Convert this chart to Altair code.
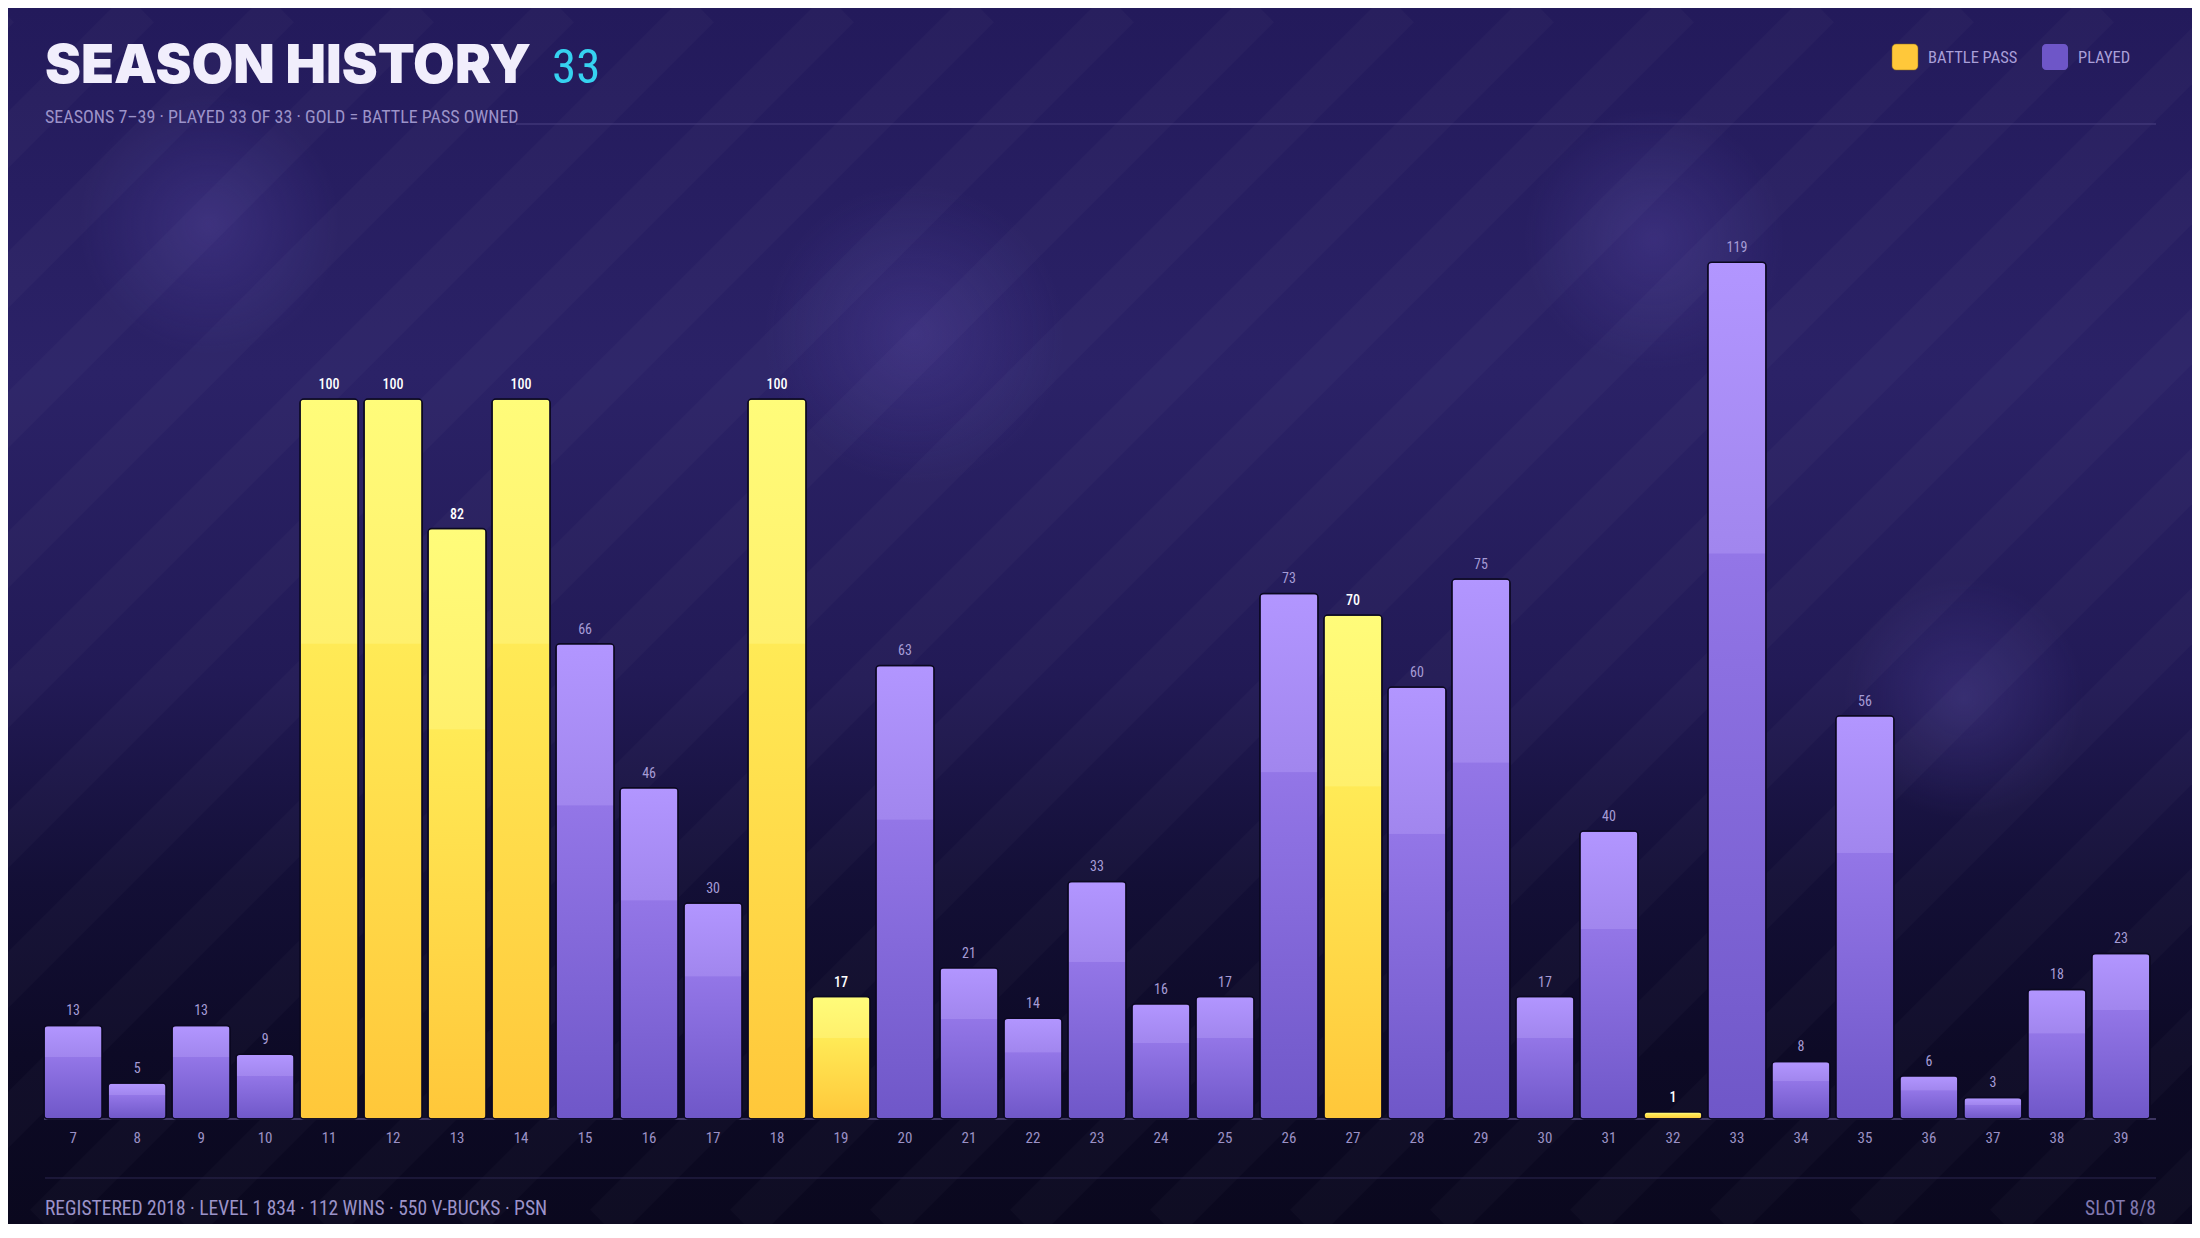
import altair as alt
import pandas as pd

# ---------------- data ----------------
seasons = [7, 8, 9, 10, 11, 12, 13, 14, 15, 16, 17, 18, 19, 20, 21, 22, 23,
           24, 25, 26, 27, 28, 29, 30, 31, 32, 33, 34, 35, 36, 37, 38, 39]
played = [13, 5, 13, 9, 100, 100, 82, 100, 66, 46, 30, 100, 17, 63, 21, 14, 33,
          16, 17, 73, 70, 60, 75, 17, 40, 1, 119, 8, 56, 6, 3, 18, 23]
battle_pass_seasons = [11, 12, 13, 14, 18, 19, 27, 32]

title_text = "SEASON HISTORY"
title_count = "33"
subtitle_text = "SEASONS 7\u201339  \u00b7  PLAYED 33 OF 33  \u00b7  GOLD = BATTLE PASS OWNED"
footer_left = "REGISTERED 2018  \u00b7  LEVEL 1 834  \u00b7  112 WINS  \u00b7  550 V-BUCKS  \u00b7  PSN"
footer_right = "SLOT 8/8"
legend_labels = ["BATTLE PASS", "PLAYED"]

df = pd.DataFrame({
    "season": seasons,
    "played": played,
    "bp": [1 if s in battle_pass_seasons else 0 for s in seasons],
})

# ---------------- layout constants ----------------
W, H = 2106, 900
PAD = {"left": 36, "top": 211, "right": 42, "bottom": 105}
NARROW = "Noto Sans ExtraCondensed, Noto Sans Condensed, Roboto Condensed, Roboto, sans-serif"
HEAVY = "Inter, Lato, sans-serif"

# ---------------- background ----------------
one = pd.DataFrame({"k": [0]})
bg_grad = alt.Gradient(
    gradient="linear", x1=0, y1=0, x2=0, y2=1,
    stops=[
        alt.GradientStop(offset=0, color="#231a5b"),
        alt.GradientStop(offset=0.3, color="#2b2267"),
        alt.GradientStop(offset=0.55, color="#221a56"),
        alt.GradientStop(offset=0.72, color="#130f36"),
        alt.GradientStop(offset=0.86, color="#0d0a26"),
        alt.GradientStop(offset=1, color="#0a081e"),
    ],
)
bg_rect = alt.Chart(one).mark_rect(fill=bg_grad).encode(
    x=alt.value(-PAD["left"]), x2=alt.value(W + PAD["right"]),
    y=alt.value(-PAD["top"]), y2=alt.value(H + PAD["bottom"]),
)

glow_fill = alt.Gradient(
    gradient="radial",
    stops=[
        alt.GradientStop(offset=0, color="rgba(120,100,210,0.22)"),
        alt.GradientStop(offset=1, color="rgba(120,100,210,0)"),
    ],
)
glows = []
for gx, gy, gs in [(165, 5, 260), (870, 115, 300), (1610, 20, 260), (1920, 480, 240)]:
    glows.append(
        alt.Chart(one).mark_circle(fill=glow_fill, opacity=1, strokeWidth=0).encode(
            x=alt.value(gx), y=alt.value(gy), size=alt.value(gs * gs)
        )
    )

total_h = H + PAD["top"] + PAD["bottom"]
stripe_starts = list(range(-1400, 2300, 140))
stripes_df = pd.DataFrame({
    "sx": stripe_starts,
    "sx2": [s + total_h for s in stripe_starts],
    "sy": [H + PAD["bottom"]] * len(stripe_starts),
    "sy2": [-PAD["top"]] * len(stripe_starts),
})
stripes = alt.Chart(stripes_df).mark_rule(
    color="#ffffff", strokeWidth=40, opacity=0.025
).encode(
    x=alt.X("sx:Q", scale=None, axis=None),
    x2="sx2:Q",
    y=alt.Y("sy:Q", scale=None, axis=None),
    y2="sy2:Q",
)

background = alt.layer(bg_rect, *glows, stripes)

# ---------------- bars ----------------
purple_grad = alt.Gradient(
    gradient="linear", x1=0, y1=0, x2=0, y2=1,
    stops=[
        alt.GradientStop(offset=0, color="#b296ff"),
        alt.GradientStop(offset=0.339, color="#a186ee"),
        alt.GradientStop(offset=0.341, color="#9376e7"),
        alt.GradientStop(offset=1, color="#6f57c8"),
    ],
)
gold_grad = alt.Gradient(
    gradient="linear", x1=0, y1=0, x2=0, y2=1,
    stops=[
        alt.GradientStop(offset=0, color="#fffc7a"),
        alt.GradientStop(offset=0.339, color="#fff06c"),
        alt.GradientStop(offset=0.341, color="#ffea56"),
        alt.GradientStop(offset=1, color="#ffc73a"),
    ],
)

xenc = alt.X("season:O", axis=None, sort=seasons,
             scale=alt.Scale(domain=seasons, paddingInner=0.09, paddingOuter=0))
yenc = alt.Y("played:Q", axis=None, scale=alt.Scale(domain=[0, 125]))

base = alt.Chart(df).encode(x=xenc, y=yenc)

purple_bars = base.transform_filter("datum.bp == 0").mark_bar(
    fill=purple_grad, stroke="#0b0820", strokeWidth=1.5, cornerRadius=4
)
gold_bars = base.transform_filter("datum.bp == 1").mark_bar(
    fill=gold_grad, stroke="#0b0820", strokeWidth=1.5, cornerRadius=4
)

purple_labels = base.transform_filter("datum.bp == 0").mark_text(
    baseline="bottom", dy=-7, font=NARROW, fontSize=14, color="#a69cd6"
).encode(text="played:Q")
gold_labels = base.transform_filter("datum.bp == 1").mark_text(
    baseline="bottom", dy=-7, font=NARROW, fontSize=14, fontWeight=500, color="#ffffff"
).encode(text="played:Q")

tick_labels = alt.Chart(df).mark_text(
    baseline="middle", font=NARROW, fontSize=15, color="#9b91c6"
).encode(x=xenc, y=alt.value(919), text="season:O")

axis_line = alt.Chart(one).mark_rule(color="#4f4679", strokeWidth=1.5).encode(
    x=alt.value(0), x2=alt.value(W + 6), y=alt.value(H)
)

# ---------------- header / footer ----------------
title = alt.Chart(one).mark_text(
    text=title_text, align="left", baseline="alphabetic",
    font=HEAVY, fontWeight=900, fontSize=54, color="#f1eefc"
).encode(x=alt.value(1), y=alt.value(-136))

count = alt.Chart(one).mark_text(
    text=title_count, align="left", baseline="alphabetic",
    font=NARROW, fontSize=49, color="#36d2f0"
).encode(x=alt.value(508), y=alt.value(-136))

subtitle = alt.Chart(one).mark_text(
    text=subtitle_text, align="left", baseline="alphabetic",
    font=NARROW, fontSize=18, color="#9c93c9"
).encode(x=alt.value(1), y=alt.value(-96))

header_rule = alt.Chart(one).mark_rule(color="#4c4384", strokeWidth=1.2).encode(
    x=alt.value(472), x2=alt.value(W + 6), y=alt.value(-95)
)

leg_gold = alt.Chart(one).mark_rect(
    color="#ffc83a", cornerRadius=4, stroke="#8a6a1a", strokeWidth=0.5
).encode(x=alt.value(1848), x2=alt.value(1874), y=alt.value(-175), y2=alt.value(-149))
leg_purple = alt.Chart(one).mark_rect(
    color="#6e56c8", cornerRadius=4
).encode(x=alt.value(1998), x2=alt.value(2024), y=alt.value(-175), y2=alt.value(-149))
leg_text1 = alt.Chart(one).mark_text(
    text=legend_labels[0], align="left", baseline="middle",
    font=NARROW, fontSize=16.5, color="#a99fd8"
).encode(x=alt.value(1884), y=alt.value(-161))
leg_text2 = alt.Chart(one).mark_text(
    text=legend_labels[1], align="left", baseline="middle",
    font=NARROW, fontSize=16.5, color="#a99fd8"
).encode(x=alt.value(2034), y=alt.value(-161))

footer_rule = alt.Chart(one).mark_rule(color="#2c2650", strokeWidth=1.2).encode(
    x=alt.value(1), x2=alt.value(W + 6), y=alt.value(959)
)
footer_l = alt.Chart(one).mark_text(
    text=footer_left, align="left", baseline="middle",
    font=NARROW, fontSize=19.5, color="#9c93c9"
).encode(x=alt.value(1), y=alt.value(990))
footer_r = alt.Chart(one).mark_text(
    text=footer_right, align="right", baseline="middle",
    font=NARROW, fontSize=19.5, color="#8279b0"
).encode(x=alt.value(W + 6), y=alt.value(990))

main = alt.layer(
    axis_line, purple_bars, gold_bars, purple_labels, gold_labels, tick_labels,
    title, count, subtitle, header_rule, leg_gold, leg_purple, leg_text1, leg_text2,
    footer_rule, footer_l, footer_r,
)

chart = alt.layer(background, main).resolve_scale(
    x="independent", y="independent"
).properties(
    width=W, height=H, padding=PAD, autosize=alt.AutoSizeParams(type="none"),
    background="#0a081e",
).configure_view(stroke=None)

chart.save("out.html", embed_options={"renderer": "svg", "actions": False})
